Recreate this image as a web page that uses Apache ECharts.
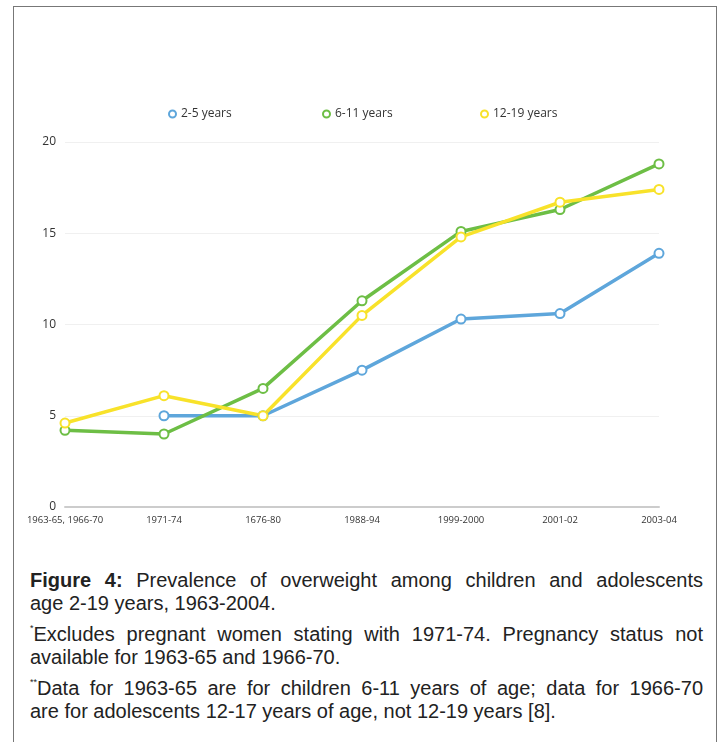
<!DOCTYPE html>
<html>
<head>
<meta charset="utf-8">
<script src="https://cdn.jsdelivr.net/npm/echarts@6/dist/echarts.min.js"></script>
<style>
  html, body { margin: 0; padding: 0; background: #fff; }
  #frame { position: absolute; left: 13px; top: 6px; width: 704px; height: 740px; border: 1px solid #777; border-bottom: none; box-sizing: border-box; }
  #chart { position: absolute; left: 0; top: 0; width: 723px; height: 560px; }
  #caption { position: absolute; left: 30px; top: 569px; width: 673px; font-family: "Liberation Sans", Arial, sans-serif; font-size: 20px; line-height: 23px; color: #222; }
  #caption .p { margin: 0 0 8px 0; }
  #caption .l { display: block; white-space: nowrap; }
  #caption .j { text-align: justify; text-align-last: justify; }
  #caption sup { font-size: 9px; vertical-align: top; line-height: 10px; }
</style>
</head>
<body>
<div id="frame"></div>
<div id="chart"></div>
<div id="caption">
  <div class="p"><span class="l j"><b>Figure 4:</b> Prevalence of overweight among children and adolescents</span><span class="l">age 2-19 years, 1963-2004.</span></div>
  <div class="p"><span class="l j"><sup>*</sup>Excludes pregnant women stating with 1971-74. Pregnancy status not</span><span class="l">available for 1963-65 and 1966-70.</span></div>
  <div class="p"><span class="l j"><sup>**</sup>Data for 1963-65 are for children 6-11 years of age; data for 1966-70</span><span class="l">are for adolescents 12-17 years of age, not 12-19 years [8].</span></div>
</div>
<script>
const categories = ["1963-65, 1966-70", "1971-74", "1676-80", "1988-94", "1999-2000", "2001-02", "2003-04"];
const age2to5 = [null, 5.0, 5.0, 7.5, 10.3, 10.6, 13.9];
const age6to11 = [4.2, 4.0, 6.5, 11.3, 15.1, 16.3, 18.8];
const age12to19 = [4.6, 6.1, 5.0, 10.5, 14.8, 16.7, 17.4];
const seriesNames = ["2-5 years", "6-11 years", "12-19 years"];
const colors = ["#5ea6db", "#6dbe45", "#f8e22a"];

const chart = echarts.init(document.getElementById('chart'));
const legendLefts = [163, 317, 475];
function mkSeries(name, data, color) {
  return {
    name: name, type: 'line', data: data,
    symbol: 'emptyCircle', symbolSize: 9,
    lineStyle: { color: color, width: 3.5 },
    itemStyle: { color: color, borderColor: color, borderWidth: 3.5 },
    emphasis: { disabled: true },
    z: 2
  };
}
chart.setOption({
  animation: false,
  color: colors,
  legend: seriesNames.map((n, i) => ({
    data: [n], left: legendLefts[i], top: 103,
    icon: 'emptyCircle', itemWidth: 7, itemHeight: 7, itemGap: 5,
    itemStyle: { borderWidth: 1.5 },
    textStyle: { fontFamily: 'Open Sans', fontSize: 12, color: '#333' }
  })),
  grid: { left: 65, right: 64, top: 142, bottom: 53, containLabel: false },
  xAxis: {
    type: 'category', data: categories, boundaryGap: false,
    axisLine: { lineStyle: { color: '#cccccc', width: 2 } },
    axisTick: { show: false },
    axisLabel: { fontFamily: 'Open Sans', fontSize: 9.5, color: '#333', margin: 8, interval: 0 }
  },
  yAxis: {
    type: 'value', min: 0, max: 20, interval: 5,
    axisLine: { show: false }, axisTick: { show: false },
    splitLine: { lineStyle: { color: '#f0f0f0', width: 1 } },
    axisLabel: { fontFamily: 'Open Sans', fontSize: 12, color: '#333', margin: 9 }
  },
  series: [
    mkSeries(seriesNames[0], age2to5, colors[0]),
    mkSeries(seriesNames[1], age6to11, colors[1]),
    mkSeries(seriesNames[2], age12to19, colors[2])
  ]
});
</script>
</body>
</html>
